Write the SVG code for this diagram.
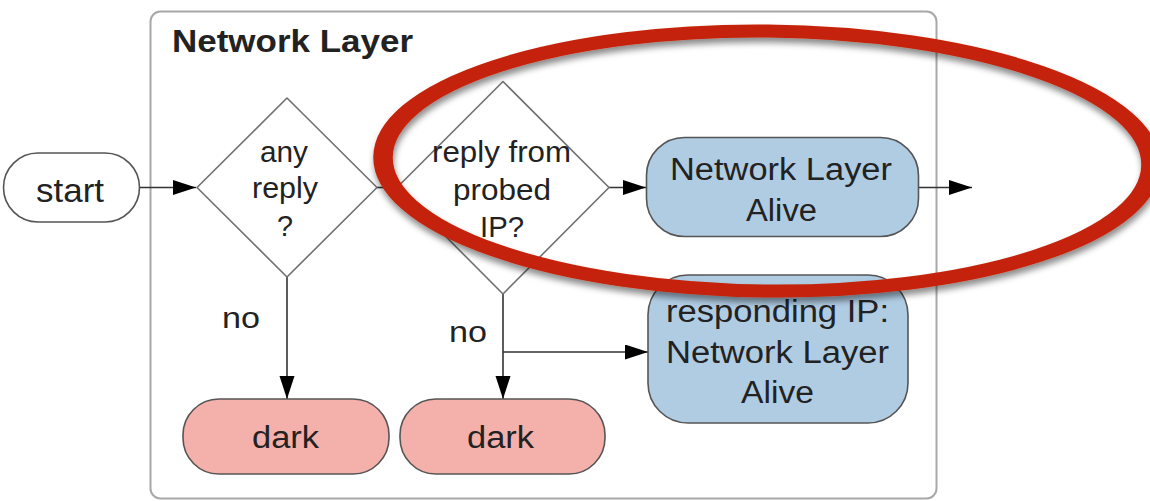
<svg xmlns="http://www.w3.org/2000/svg" width="1150" height="501" viewBox="0 0 1150 501">
  <defs>
    <style>
      .txt { font-family: "Liberation Sans", Arial, Helvetica, sans-serif; fill: #222; }
      .node { stroke: #555; stroke-width: 1.6; }
      .start { fill: #ffffff; }
      .blue { fill: #b0cce3; }
      .red { fill: #f4b1ab; }
      .diamond { fill: #ffffff; stroke: #707070; stroke-width: 1.6; stroke-linejoin: round; }
      .conn { fill: none; stroke: #333; stroke-width: 1.6; }
    </style>
    <marker id="arrow" markerUnits="userSpaceOnUse" markerWidth="24" markerHeight="16" refX="23" refY="7.5" orient="auto">
      <path d="M0,0 L23,7.5 L0,15 z" fill="#000"/>
    </marker>
    <filter id="shadow" x="-10%" y="-20%" width="120%" height="140%">
      <feDropShadow dx="1" dy="5" stdDeviation="3" flood-color="#000" flood-opacity="0.45"/>
    </filter>
  </defs>

  <rect width="1150" height="501" fill="#ffffff"/>

  <g id="network-layer">
    <rect x="150.5" y="11.5" width="786" height="487" rx="10" fill="#ffffff" stroke="#a8a8a8" stroke-width="2"/>
    <text class="txt" x="172" y="52" font-size="31" font-weight="bold" textLength="241" lengthAdjust="spacingAndGlyphs">Network Layer</text>
  </g>

  <g id="connectors">
    <line class="conn" x1="140" y1="187.5" x2="196" y2="187.5" marker-end="url(#arrow)"/>
    <line class="conn" x1="377" y1="187.5" x2="397" y2="187.5"/>
    <line class="conn" x1="609" y1="187.5" x2="646" y2="187.5" marker-end="url(#arrow)"/>
    <line class="conn" x1="918" y1="187.5" x2="972" y2="187.5" marker-end="url(#arrow)"/>
    <line class="conn" x1="287" y1="277" x2="287" y2="399" marker-end="url(#arrow)"/>
    <line class="conn" x1="503" y1="294" x2="503" y2="399" marker-end="url(#arrow)"/>
    <line class="conn" x1="503" y1="352" x2="648" y2="352" marker-end="url(#arrow)"/>
    <text class="txt" x="222" y="328" font-size="29" textLength="38" lengthAdjust="spacingAndGlyphs">no</text>
    <text class="txt" x="449" y="342" font-size="29" textLength="38" lengthAdjust="spacingAndGlyphs">no</text>
  </g>

  <g id="start">
    <rect class="node start" x="3.5" y="153" width="136" height="69" rx="34.5"/>
    <text class="txt" x="36" y="202" font-size="34" textLength="68" lengthAdjust="spacingAndGlyphs">start</text>
  </g>

  <g id="any-reply">
    <polygon class="diamond" points="287,98 377,187.5 287,277 197,187.5"/>
    <text class="txt" x="260" y="162" font-size="29" textLength="48" lengthAdjust="spacingAndGlyphs">any</text>
    <text class="txt" x="252" y="198" font-size="29" textLength="66" lengthAdjust="spacingAndGlyphs">reply</text>
    <text class="txt" x="277" y="236" font-size="29" textLength="16" lengthAdjust="spacingAndGlyphs">?</text>
  </g>

  <g id="reply-from-probed">
    <polygon class="diamond" points="503,81.5 609,187.5 503,294 397,187.5"/>
    <text class="txt" x="432" y="162" font-size="29" textLength="139" lengthAdjust="spacingAndGlyphs">reply from</text>
    <text class="txt" x="453" y="200" font-size="29" textLength="98" lengthAdjust="spacingAndGlyphs">probed</text>
    <text class="txt" x="480" y="237" font-size="29" textLength="44" lengthAdjust="spacingAndGlyphs">IP?</text>
  </g>

  <g id="network-layer-alive">
    <rect class="node blue" x="646.5" y="137.5" width="272" height="99" rx="38"/>
    <text class="txt" x="670" y="180" font-size="31" textLength="222" lengthAdjust="spacingAndGlyphs">Network Layer</text>
    <text class="txt" x="746" y="221" font-size="31" textLength="71" lengthAdjust="spacingAndGlyphs">Alive</text>
  </g>

  <g id="responding-ip">
    <rect class="node blue" x="648" y="275" width="260" height="148" rx="40"/>
    <text class="txt" x="666" y="322" font-size="31" textLength="223" lengthAdjust="spacingAndGlyphs">responding IP:</text>
    <text class="txt" x="666" y="363" font-size="31" textLength="223" lengthAdjust="spacingAndGlyphs">Network Layer</text>
    <text class="txt" x="741" y="403" font-size="31" textLength="73" lengthAdjust="spacingAndGlyphs">Alive</text>
  </g>

  <g id="dark-1">
    <rect class="node red" x="183" y="399" width="206" height="75" rx="36"/>
    <text class="txt" x="252" y="448" font-size="31" textLength="67" lengthAdjust="spacingAndGlyphs">dark</text>
  </g>

  <g id="dark-2">
    <rect class="node red" x="400" y="399" width="205" height="75" rx="36"/>
    <text class="txt" x="467" y="448" font-size="31" textLength="67" lengthAdjust="spacingAndGlyphs">dark</text>
  </g>

  <g id="highlight" filter="url(#shadow)">
    <g transform="translate(767,161) rotate(0.6) scale(1.5,1)">
      <ellipse cx="0" cy="0" rx="256" ry="130" fill="none" stroke="#c52408" stroke-width="13"/>
    </g>
  </g>
</svg>
